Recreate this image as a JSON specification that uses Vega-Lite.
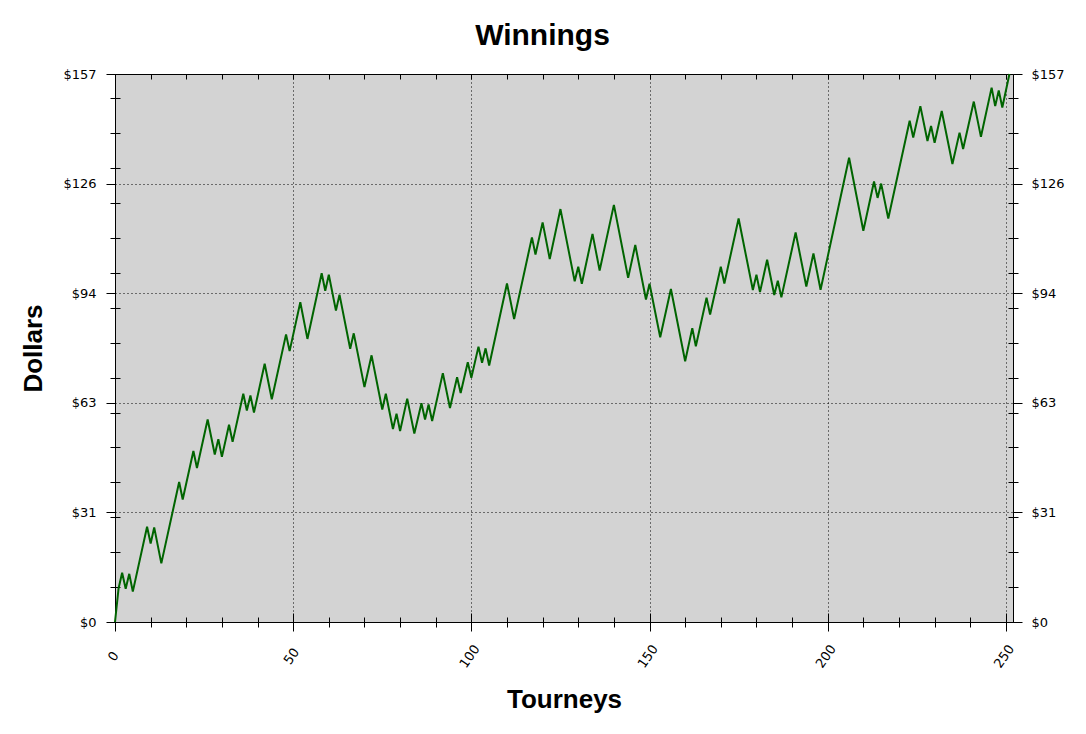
{
  "$schema": "https://vega.github.io/schema/vega-lite/v6.json",
  "width": 898,
  "height": 548,
  "autosize": "none",
  "padding": {"left": 115, "top": 74, "right": 73, "bottom": 112},
  "background": "white",
  "config": {
    "view": {"fill": "#d3d3d3", "stroke": "black", "strokeWidth": 1},
    "axis": {"tickColor": "black", "domainColor": "black", "labelColor": "black", "titleColor": "black", "tickWidth": 1, "domainWidth": 1, "labelFont": "DejaVu Sans", "labelFontSize": 13, "labelOverlap": false, "labelFlush": false}
  },
  "title": {"text": "Winnings", "font": "Liberation Sans", "fontSize": 30, "fontWeight": "bold", "color": "black", "anchor": "middle", "frame": "bounds", "offset": 17},
  "data": {"values": [
    {"t": 0, "w": 0}, {"t": 1, "w": 9.6}, {"t": 2, "w": 14.1}, {"t": 3, "w": 9.5}, {"t": 4, "w": 13.8}, {"t": 5, "w": 8.7},
    {"t": 9, "w": 27.3}, {"t": 10, "w": 22.5}, {"t": 11, "w": 27.1}, {"t": 13, "w": 16.8}, {"t": 18, "w": 40.1}, {"t": 19, "w": 35.1},
    {"t": 22, "w": 49.0}, {"t": 23, "w": 44.1}, {"t": 26, "w": 58.0}, {"t": 28, "w": 48.0}, {"t": 29, "w": 52.4}, {"t": 30, "w": 47.3},
    {"t": 32, "w": 56.5}, {"t": 33, "w": 51.6}, {"t": 36, "w": 65.4}, {"t": 37, "w": 60.6}, {"t": 38, "w": 64.9}, {"t": 39, "w": 60.0},
    {"t": 42, "w": 74.0}, {"t": 44, "w": 63.8}, {"t": 48, "w": 82.4}, {"t": 49, "w": 77.6}, {"t": 52, "w": 91.6}, {"t": 54, "w": 81.1},
    {"t": 58, "w": 99.9}, {"t": 59, "w": 94.9}, {"t": 60, "w": 99.5}, {"t": 62, "w": 89.2}, {"t": 63, "w": 93.8}, {"t": 66, "w": 78.3},
    {"t": 67, "w": 82.7}, {"t": 70, "w": 67.3}, {"t": 72, "w": 76.4}, {"t": 75, "w": 60.9}, {"t": 76, "w": 65.4}, {"t": 78, "w": 55.3},
    {"t": 79, "w": 59.7}, {"t": 80, "w": 54.7}, {"t": 82, "w": 64.0}, {"t": 84, "w": 54.0}, {"t": 86, "w": 62.7}, {"t": 87, "w": 58.0},
    {"t": 88, "w": 62.3}, {"t": 89, "w": 57.6}, {"t": 92, "w": 71.3}, {"t": 94, "w": 61.3}, {"t": 96, "w": 70.1}, {"t": 97, "w": 65.6},
    {"t": 99, "w": 74.4}, {"t": 100, "w": 70.0}, {"t": 102, "w": 78.9}, {"t": 103, "w": 74.3}, {"t": 104, "w": 78.4}, {"t": 105, "w": 73.5},
    {"t": 110, "w": 97.0}, {"t": 112, "w": 86.8}, {"t": 117, "w": 110.2}, {"t": 118, "w": 105.3}, {"t": 120, "w": 114.5}, {"t": 122, "w": 104.0},
    {"t": 125, "w": 118.3}, {"t": 129, "w": 97.6}, {"t": 130, "w": 101.8}, {"t": 131, "w": 96.9}, {"t": 134, "w": 111.2}, {"t": 136, "w": 100.7},
    {"t": 140, "w": 119.5}, {"t": 144, "w": 98.6}, {"t": 146, "w": 108.0}, {"t": 149, "w": 92.4}, {"t": 150, "w": 96.9}, {"t": 153, "w": 81.6},
    {"t": 156, "w": 95.4}, {"t": 160, "w": 74.7}, {"t": 162, "w": 84.2}, {"t": 163, "w": 79.0}, {"t": 166, "w": 92.9}, {"t": 167, "w": 88.1},
    {"t": 170, "w": 101.8}, {"t": 171, "w": 97.0}, {"t": 175, "w": 115.6}, {"t": 179, "w": 95.1}, {"t": 180, "w": 99.5}, {"t": 181, "w": 94.5},
    {"t": 183, "w": 103.8}, {"t": 185, "w": 93.7}, {"t": 186, "w": 97.8}, {"t": 187, "w": 93.0}, {"t": 191, "w": 111.6}, {"t": 194, "w": 96.1},
    {"t": 196, "w": 105.6}, {"t": 198, "w": 95.2}, {"t": 206, "w": 133.0}, {"t": 210, "w": 112.1}, {"t": 213, "w": 126.2}, {"t": 214, "w": 121.5},
    {"t": 215, "w": 125.6}, {"t": 217, "w": 115.6}, {"t": 223, "w": 143.6}, {"t": 224, "w": 138.8}, {"t": 226, "w": 147.8}, {"t": 228, "w": 137.8},
    {"t": 229, "w": 142.1}, {"t": 230, "w": 137.3}, {"t": 232, "w": 146.4}, {"t": 235, "w": 131.2}, {"t": 237, "w": 140.2}, {"t": 238, "w": 135.5},
    {"t": 241, "w": 149.1}, {"t": 243, "w": 139.0}, {"t": 246, "w": 153.1}, {"t": 247, "w": 147.8}, {"t": 248, "w": 152.3}, {"t": 249, "w": 147.4},
    {"t": 251, "w": 157.0}
  ]},
  "resolve": {"axis": {"x": "independent", "y": "independent"}},
  "layer": [
    {
      "mark": {"type": "line", "color": "#006400", "strokeWidth": 2},
      "encoding": {
        "x": {"field": "t", "type": "quantitative", "scale": {"domain": [0, 252], "nice": false, "zero": false},
          "axis": {"orient": "bottom", "values": [0, 50, 100, 150, 200, 250], "tickSize": 9, "labelAngle": -55, "labelAlign": "center", "labelBaseline": "middle", "labelPadding": 25, "labelOffset": -2,
            "grid": true, "gridColor": "black", "gridDash": [1, 3], "gridWidth": 1, "zindex": 0,
            "title": "Tourneys", "titleFont": "Liberation Sans", "titleFontSize": 26, "titleFontWeight": "bold", "titlePadding": 16}},
        "y": {"field": "w", "type": "quantitative", "scale": {"domain": [0, 157], "nice": false, "zero": false},
          "axis": {"orient": "left", "values": [0, 31.4, 62.8, 94.2, 125.6, 157], "labelExpr": "'$' + format(datum.value, '.0f')", "tickSize": 9, "labelPadding": 10,
            "grid": true, "gridColor": "black", "gridDash": [1, 3], "gridWidth": 1, "zindex": 0,
            "title": "Dollars", "titleFont": "Liberation Sans", "titleFontSize": 26, "titleFontWeight": "bold", "titlePadding": 16}}
      }
    },
    {
      "mark": {"type": "line", "opacity": 0},
      "encoding": {
        "x": {"field": "t", "type": "quantitative",
          "axis": {"orient": "bottom", "values": [0, 50, 100, 150, 200, 250], "offset": -9, "tickSize": 9, "domain": false, "labels": false, "grid": false, "title": null}},
        "y": {"field": "w", "type": "quantitative",
          "axis": {"orient": "left", "values": [10, 20, 30, 40, 50, 60, 70, 80, 90, 100, 110, 120, 130, 140, 150], "offset": -5, "tickSize": 10, "domain": false, "labels": false, "grid": false, "title": null}}
      }
    },
    {
      "mark": {"type": "line", "opacity": 0},
      "encoding": {
        "x": {"field": "t", "type": "quantitative",
          "axis": {"orient": "bottom", "values": [10, 20, 30, 40, 60, 70, 80, 90, 110, 120, 130, 140, 160, 170, 180, 190, 210, 220, 230, 240], "offset": -5, "tickSize": 10, "domain": false, "labels": false, "grid": false, "title": null}},
        "y": {"field": "w", "type": "quantitative",
          "axis": {"orient": "right", "values": [0, 31.4, 62.8, 94.2, 125.6, 157], "labelExpr": "'$' + format(datum.value, '.0f')", "tickSize": 9, "labelPadding": 9, "grid": false, "title": null}}
      }
    },
    {
      "mark": {"type": "line", "opacity": 0},
      "encoding": {
        "x": {"field": "t", "type": "quantitative",
          "axis": {"orient": "top", "values": [10, 20, 30, 40, 50, 60, 70, 80, 90, 100, 110, 120, 130, 140, 150, 160, 170, 180, 190, 200, 210, 220, 230, 240, 250], "offset": -5, "tickSize": 5, "domain": false, "labels": false, "grid": false, "title": null}},
        "y": {"field": "w", "type": "quantitative",
          "axis": {"orient": "right", "values": [10, 20, 30, 40, 50, 60, 70, 80, 90, 100, 110, 120, 130, 140, 150], "offset": -5, "tickSize": 10, "domain": false, "labels": false, "grid": false, "title": null}}
      }
    }
  ]
}
